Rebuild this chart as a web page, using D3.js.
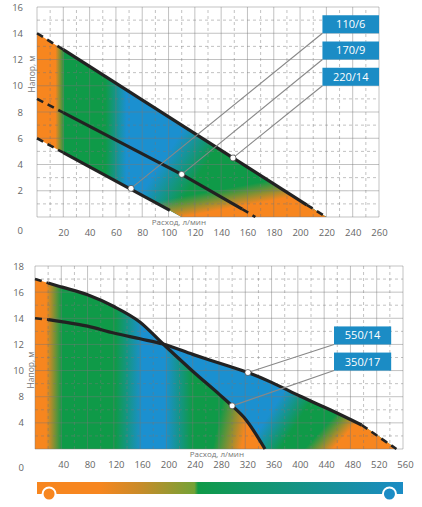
<!DOCTYPE html>
<html>
<head>
<meta charset="utf-8">
<script src="https://cdn.jsdelivr.net/npm/d3@7"></script>
<style>
body { margin: 0; background: #fff; }
svg text { font-family: "Open Sans", sans-serif; }
</style>
</head>
<body>
<svg id="graph" width="422" height="507"></svg>
<script>
// ---- top chart: 110/6, 170/9, 220/14 ----
var topFlowTicks = [20, 40, 60, 80, 100, 120, 140, 160, 180, 200, 220, 240, 260]
var topHeadTicks = [2, 4, 6, 8, 10, 12, 14, 16]
var topNames = ["110/6", "170/9", "220/14"]
var pump110 = [[0, 6], [20, 4.9], [101, 0.5], [110, 0]]
var pump170 = [[0, 9], [20, 7.95], [110, 3.25], [156, 0.6], [166, 0]]
var pump220 = [[0, 14], [20, 12.75], [205, 0.93], [220, 0]]
var topSolid = [[20, 101], [20, 156], [20, 205]]
var topTail = [false, true, true]
var topDuty = [[71.5, 2.18], [110, 3.25], [149, 4.5]]
var topBoxHead = [14, 12, 10]

// ---- bottom chart: 550/14, 350/17 ----
var botFlowTicks = [40, 80, 120, 160, 200, 240, 280, 320, 360, 400, 440, 480, 520, 560]
var botHeadTicks = [18, 16, 14, 12, 10, 8, 6]
var botHeadLabels = ["18", "16", "14", "12", "10", "8", "4"]
var botNames = ["550/14", "350/17"]
var pump550 = [[0, 14], [20, 13.9], [40, 13.75], [80, 13.4], [120, 12.87], [160, 12.43], [195, 12.03],
    [240, 11.24], [280, 10.58], [324, 9.85], [360, 9.1], [403, 8.05], [449, 7.0], [497, 5.84], [550, 4]]
var pump350 = [[0, 17], [20, 16.7], [40, 16.4], [80, 15.8], [120, 14.9], [160, 13.7], [195, 12.03],
    [240, 9.95], [280, 8.2], [300, 7.3], [320, 6.3], [350, 4]]
var botSolid = [[20, 497], [20, 350]]
var botTail = [true, false]
var botDuty = [[324, 9.85], [300, 7.3]]
var botBoxHead = [12, 10]

var ORANGE = "#f7861f", GREEN = "#0f9a48", BLUE = "#1b90d0", BOX = "#1b8cc5"
var TXT = "#666"

var svg = d3.select("#graph")
var defs = svg.append("defs")

var xT = d3.scaleLinear().domain([0, 260]).range([37, 379])
var yT = d3.scaleLinear().domain([0, 16]).range([217, 7])
var xB = d3.scaleLinear().domain([0, 560]).range([35, 403])
var yB = d3.scaleLinear().domain([4, 18]).range([449, 266])

function linGrad(id, p1, p2, stops) {
    var gr = defs.append("linearGradient").attr("id", id)
        .attr("gradientUnits", "userSpaceOnUse")
        .attr("x1", p1[0]).attr("y1", p1[1]).attr("x2", p2[0]).attr("y2", p2[1])
    stops.forEach(s => {
        gr.append("stop").attr("offset", s[0]).attr("stop-color", s[1])
            .attr("stop-opacity", s[2] == null ? 1 : s[2])
    })
}
// horizontal gradient, stops given in flow units
function flowGrad(id, x, stops) {
    var a = x(stops[0][0]), b = x(stops[stops.length - 1][0])
    linGrad(id, [a, 0], [b, 0], stops.map(s => [(x(s[0]) - a) / (b - a), s[1], s[2]]))
}
// tilted gradient, dir = unit vector, a..b = projection range in px
function tiltGrad(id, dir, a, b, stops) {
    linGrad(id, [dir[0] * a, dir[1] * a], [dir[0] * b, dir[1] * b], stops)
}

function grid(g, x, y, xs, ys, dashed) {
    var yr = y.range(), xr = x.range()
    g.selectAll(null).data(xs).enter().append("line")
        .attr("x1", d => x(d)).attr("x2", d => x(d))
        .attr("y1", yr[0]).attr("y2", yr[1])
        .attr("stroke", "#777").attr("stroke-opacity", 0.45)
        .attr("stroke-dasharray", dashed ? "3,3" : null)
    g.selectAll(null).data(ys).enter().append("line")
        .attr("y1", d => y(d)).attr("y2", d => y(d))
        .attr("x1", xr[0]).attr("x2", xr[1])
        .attr("stroke", "#777").attr("stroke-opacity", 0.45)
        .attr("stroke-dasharray", dashed ? "3,3" : null)
}

function layer(clipId, gradIds) {
    var g = svg.append("g").attr("clip-path", "url(#" + clipId + ")")
    gradIds.forEach(id => {
        g.append("rect").attr("width", 422).attr("height", 507).attr("fill", "url(#" + id + ")")
    })
}

// dashed head (and tail), solid middle
function curves(x, y, pumps, solid, tail, curveType) {
    var line = d3.line().x(d => x(d[0])).y(d => y(d[1])).curve(curveType)
    pumps.forEach((p, i) => {
        var head = p.filter(d => d[0] <= solid[i][0])
        var mid = p.filter(d => d[0] >= solid[i][0] && d[0] <= solid[i][1])
        var end = p.filter(d => d[0] >= solid[i][1])
        var parts = tail[i] ? [head, end] : [head]
        parts.forEach(part => {
            svg.append("path").attr("d", line(part)).attr("fill", "none")
                .attr("stroke", "#222").attr("stroke-width", 2.6).attr("stroke-dasharray", "7,5")
        })
        svg.append("path").attr("d", line(mid))
            .attr("fill", "none").attr("stroke", "#222").attr("stroke-width", 3.2)
    })
}

function callouts(x, y, duty, names, boxHead, boxFrom, boxTo) {
    duty.forEach((d, i) => {
        svg.append("line")
            .attr("x1", x(d[0])).attr("y1", y(d[1]))
            .attr("x2", x(boxFrom)).attr("y2", y(boxHead[i]))
            .attr("stroke", "#888").attr("stroke-width", 1.1)
    })
    svg.selectAll(null).data(duty).enter().append("circle")
        .attr("cx", d => x(d[0])).attr("cy", d => y(d[1])).attr("r", 3)
        .attr("fill", "#fff").attr("stroke", "#444").attr("stroke-width", 0.7)
    names.forEach((n, i) => {
        svg.append("rect")
            .attr("x", x(boxFrom)).attr("y", y(boxHead[i]) - 18)
            .attr("width", x(boxTo) - x(boxFrom)).attr("height", 18)
            .attr("fill", BOX)
        svg.append("text")
            .attr("x", (x(boxFrom) + x(boxTo)) / 2).attr("y", y(boxHead[i]) - 9)
            .attr("dy", "0.36em").attr("text-anchor", "middle")
            .attr("fill", "#fff").attr("font-size", 11).text(n)
    })
}

function axisText(g) {
    g.select(".domain").remove()
    g.attr("font-family", null).attr("font-size", 9.5)
    g.selectAll("text").attr("fill", TXT)
}

// ================= top chart =================
var lineT = d3.line().x(d => xT(d[0])).y(d => yT(d[1]))
defs.append("clipPath").attr("id", "clipTop").append("path")
    .attr("d", lineT(pump220.concat(pump110.slice().reverse())) + "Z")

flowGrad("topBase", xT, [[0, ORANGE], [14, ORANGE], [21, GREEN], [52, GREEN], [68, BLUE]])
tiltGrad("topRight", [0.839, 0.545], 224, 262, [[0, GREEN, 0], [1, GREEN, 1]])
tiltGrad("topLow", [0.18, 0.984], 226, 246, [[0, ORANGE, 0], [1, ORANGE, 1]])
layer("clipTop", ["topBase", "topRight", "topLow"])

var gT = svg.append("g")
grid(gT, xT, yT, d3.range(10, 260, 20), d3.range(1, 16, 2), true)
grid(gT, xT, yT, topFlowTicks, [0].concat(topHeadTicks), false)
gT.append("line").attr("x1", xT(0)).attr("x2", xT(0)).attr("y1", yT(0)).attr("y2", yT(16))
    .attr("stroke", "#777").attr("stroke-opacity", 0.45)

curves(xT, yT, [pump110, pump170, pump220], topSolid, topTail, d3.curveLinear)
callouts(xT, yT, topDuty, topNames, topBoxHead, 217, 260)

svg.append("g").attr("transform", "translate(0,227)")
    .call(d3.axisBottom(xT).tickValues(topFlowTicks).tickSize(0).tickPadding(2))
    .call(axisText)
svg.append("g").attr("transform", "translate(23,0)")
    .call(d3.axisLeft(yT).tickValues(topHeadTicks).tickSize(0).tickPadding(0))
    .call(axisText)
svg.append("text").attr("x", 23).attr("y", 234).attr("text-anchor", "end")
    .attr("font-size", 9.5).attr("fill", TXT).text("0")
svg.append("text").attr("transform", "translate(35,74) rotate(-90)")
    .attr("text-anchor", "middle").attr("font-size", 8.5).attr("fill", "#777").text("Напор, м")
svg.append("text").attr("x", 206).attr("y", 224.5).attr("text-anchor", "end")
    .attr("font-size", 8).attr("fill", "#777").text("Расход, л/мин")

// ================= bottom chart =================
var areaB = d3.area().x(d => xB(d[0])).y0(yB(4)).y1(d => yB(d[1])).curve(d3.curveMonotoneX)
defs.append("clipPath").attr("id", "clip550").append("path").attr("d", areaB(pump550))
defs.append("clipPath").attr("id", "clip350").append("path").attr("d", areaB(pump350))

tiltGrad("b550Base", [0.842, 0.540], 450, 478, [[0, BLUE], [1, GREEN]])
tiltGrad("b550Low", [0.74, 0.673], 527, 548, [[0, ORANGE, 0], [1, ORANGE, 1]])
layer("clip550", ["b550Base", "b550Low"])

flowGrad("b350Base", xB, [[0, ORANGE], [17, ORANGE], [41, GREEN], [122, GREEN], [163, BLUE], [198, BLUE], [239, GREEN]])
tiltGrad("b350Low", [0.979, 0.205], 300, 328, [[0, ORANGE, 0], [1, ORANGE, 1]])
layer("clip350", ["b350Base", "b350Low"])

var gB = svg.append("g")
grid(gB, xB, yB, d3.range(20, 560, 40), d3.range(5, 18, 1).filter(d => d % 2 == 1), true)
grid(gB, xB, yB, botFlowTicks, [4].concat(botHeadTicks), false)
gB.append("line").attr("x1", xB(0)).attr("x2", xB(0)).attr("y1", yB(4)).attr("y2", yB(18))
    .attr("stroke", "#777").attr("stroke-opacity", 0.45)

curves(xB, yB, [pump550, pump350], botSolid, botTail, d3.curveMonotoneX)
callouts(xB, yB, botDuty, botNames, botBoxHead, 455, 542)

svg.append("g").attr("transform", "translate(2,459)")
    .call(d3.axisBottom(xB).tickValues(botFlowTicks).tickSize(0).tickPadding(2))
    .call(axisText)
svg.append("g").attr("transform", "translate(24,0)")
    .call(d3.axisLeft(yB).tickValues(botHeadTicks).tickFormat((d, i) => botHeadLabels[i])
        .tickSize(0).tickPadding(0))
    .call(axisText)
svg.append("text").attr("x", 24).attr("y", 470.5).attr("text-anchor", "end")
    .attr("font-size", 9.5).attr("fill", TXT).text("0")
svg.append("text").attr("transform", "translate(34,370) rotate(-90)")
    .attr("text-anchor", "middle").attr("font-size", 8.5).attr("fill", "#777").text("Напор, м")
svg.append("text").attr("x", 244).attr("y", 456.5).attr("text-anchor", "end")
    .attr("font-size", 8).attr("fill", "#777").text("Расход, л/мин")

// ================= colour scale bar =================
var bar = { x: 37, y: 482, w: 366, h: 12 }
linGrad("barGrad", [bar.x, 0], [bar.x + bar.w, 0], [
    [0, ORANGE], [0.17, ORANGE], [0.28, "#c98b29"], [0.43, "#74a236"], [0.44, GREEN], [1, BOX]])
svg.append("rect").attr("x", bar.x).attr("y", bar.y).attr("width", bar.w).attr("height", bar.h)
    .attr("fill", "url(#barGrad)")
svg.append("circle").attr("cx", bar.x + bar.w * 0.033).attr("cy", bar.y + bar.h).attr("r", 6.5)
    .attr("fill", ORANGE).attr("stroke", "#fff").attr("stroke-width", 2)
svg.append("circle").attr("cx", bar.x + bar.w * 0.963).attr("cy", bar.y + bar.h).attr("r", 6.5)
    .attr("fill", BOX).attr("stroke", "#fff").attr("stroke-width", 2)
</script>
</body>
</html>
